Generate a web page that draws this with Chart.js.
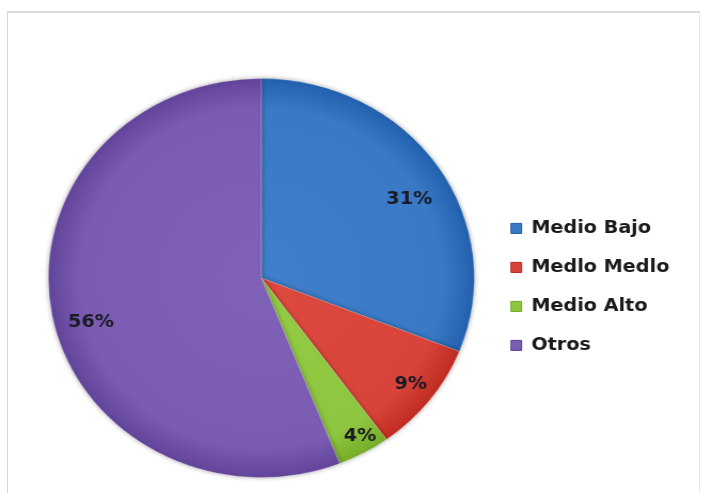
<!DOCTYPE html>
<html>
<head>
<meta charset="utf-8">
<title>Distribución por nivel</title>
<script src="https://cdn.jsdelivr.net/npm/chart.js@4.4.0/dist/chart.umd.min.js"></script>
<style>
  html, body { margin: 0; padding: 0; background: #fff; }
  body { width: 701px; height: 493px; overflow: hidden; position: relative; }
  .frame {
    position: absolute; left: 7px; top: 11px; width: 693px; height: 500px;
    border-left: 1px solid #d6d6d6; border-top: 2px solid #d9d9d9; border-right: 1px solid #e6e6e6;
    box-sizing: border-box;
  }
  /* the whole plot is drawn a bit wider than tall */
  .stretch { position: absolute; left: 0; top: 0; transform: scaleX(1.0675); transform-origin: 0 0; }
</style>
</head>
<body>
<div class="frame"></div>
<div class="stretch">
  <canvas id="pieChart" width="657" height="493"></canvas>
</div>
<script>
document.addEventListener('DOMContentLoaded', () => {
    // Chart data
    const categories = ['Medio Bajo', 'Medlo Medlo', 'Medio Alto', 'Otros'];
    const shares = [31, 9, 4, 56];
    const sliceColors = ['#3a79c6', '#d9443a', '#8ec63f', '#7b5cb3'];

    // where each % label sits: fraction along the slice angle, fraction of the radius
    const labelSpots = [[0.54, 0.80], [0.48, 0.88], [0.40, 0.92], [0.477, 0.83]];

    function shade(hex, amt) {
        const n = parseInt(hex.slice(1), 16);
        const f = c => Math.max(0, Math.min(255, Math.round(c + amt)));
        return `rgb(${f(n >> 16)}, ${f((n >> 8) & 255)}, ${f(n & 255)})`;
    }

    // soft radial shading, a bit darker towards the rim
    function sliceFill(context) {
        const base = sliceColors[context.dataIndex];
        const area = context.chart.chartArea;
        if (!area) return base;
        const cx = (area.left + area.right) / 2;
        const cy = (area.top + area.bottom) / 2;
        const r = Math.min(area.right - area.left, area.bottom - area.top) / 2;
        const g = context.chart.ctx.createRadialGradient(cx, cy, 0, cx, cy, r);
        g.addColorStop(0, shade(base, 6));
        g.addColorStop(0.85, base);
        g.addColorStop(1, shade(base, -24));
        return g;
    }

    const sliceLabels = {
        id: 'sliceLabels',
        beforeDatasetsDraw(chart) {
            const ctx = chart.ctx;
            ctx.save();
            ctx.shadowColor = 'rgba(0, 0, 0, 0.35)';
            ctx.shadowBlur = 5;
        },
        afterDatasetsDraw(chart) {
            const ctx = chart.ctx;
            ctx.restore();
            const meta = chart.getDatasetMeta(0);
            ctx.save();
            ctx.font = 'bold 18px "DejaVu Sans"';
            ctx.fillStyle = '#1a1a24';
            ctx.textAlign = 'center';
            ctx.textBaseline = 'middle';
            meta.data.forEach((arc, i) => {
                const { x, y, startAngle, endAngle, outerRadius } =
                    arc.getProps(['x', 'y', 'startAngle', 'endAngle', 'outerRadius'], true);
                const [along, out] = labelSpots[i];
                const a = startAngle + (endAngle - startAngle) * along;
                ctx.fillText(shares[i] + '%',
                    x + Math.cos(a) * outerRadius * out,
                    y + Math.sin(a) * outerRadius * out);
            });
            ctx.restore();
        }
    };

    const chartElement = document.getElementById('pieChart').getContext('2d');

    new Chart(chartElement, {
        type: 'pie',
        data: {
            labels: categories,
            datasets: [{
                data: shares,
                backgroundColor: sliceFill,
                borderColor: 'rgba(255, 255, 255, 0.2)',
                borderWidth: 1
            }]
        },
        options: {
            responsive: false,
            animation: false,
            layout: { padding: { left: 32, right: 20, top: 78, bottom: 15 } },
            plugins: {
                tooltip: { enabled: false },
                legend: {
                    position: 'right',
                    align: 'start',
                    // empty title only pushes the items down
                    title: { display: true, text: '', padding: { top: 0, bottom: 106 } },
                    labels: {
                        boxWidth: 10,
                        boxHeight: 10,
                        padding: 21,
                        color: '#1a1a1a',
                        font: { family: 'DejaVu Sans', size: 18, weight: 'bold' },
                        generateLabels: chart => categories.map((text, i) => ({
                            text,
                            fillStyle: sliceColors[i],
                            strokeStyle: shade(sliceColors[i], -30),
                            fontColor: '#1a1a1a',
                            lineWidth: 1,
                            index: i
                        }))
                    }
                }
            }
        },
        plugins: [sliceLabels]
    });
});
</script>
</body>
</html>
